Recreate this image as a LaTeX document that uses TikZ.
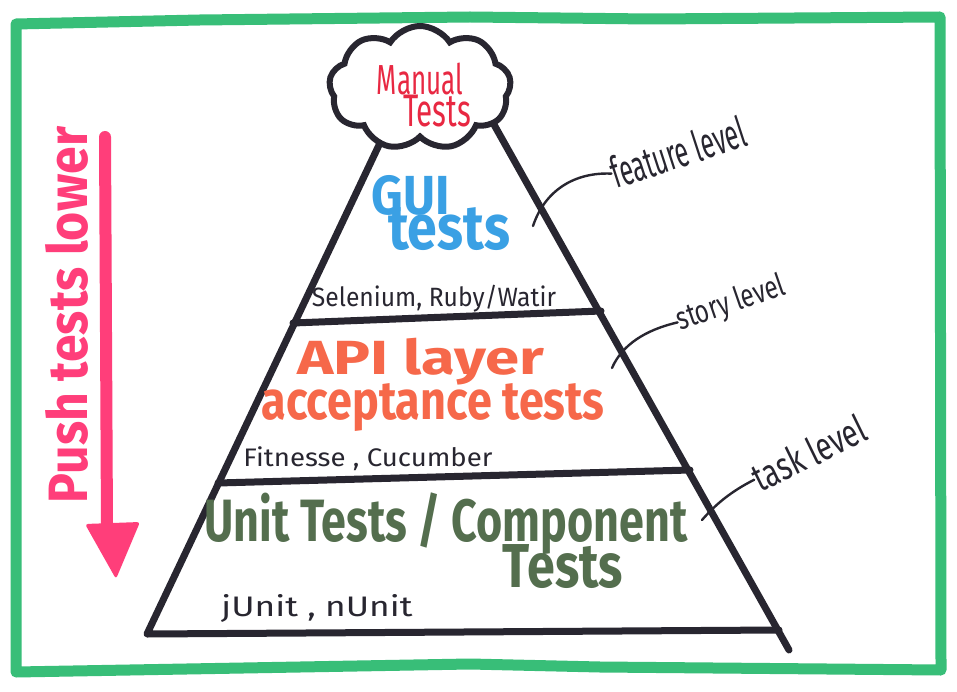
\documentclass[tikz,border=0pt]{standalone}
\usepackage{fontspec}
\setmainfont{Fira Sans}
\usetikzlibrary{shapes.symbols,calc}
\definecolor{frame}{RGB}{56,190,120}
\definecolor{ink}{RGB}{40,38,48}
\definecolor{manred}{RGB}{232,40,66}
\definecolor{guiblue}{RGB}{58,160,228}
\definecolor{apiorange}{RGB}{246,104,74}
\definecolor{unitgreen}{RGB}{84,110,78}
\definecolor{pushpink}{RGB}{255,62,122}
\newcommand{\fitto}[3]{\resizebox*{#1pt}{#2pt}{#3}}
\begin{document}
\begin{tikzpicture}[x=1pt,y=-1pt,
  txt/.style={inner sep=0pt, outer sep=0pt},
  pyrline/.style={draw=ink, line width=7pt, line cap=round, line join=round},
  conn/.style={draw=ink, line width=2.4pt, line cap=round},
  framebox/.style={draw=frame, line width=11pt, line join=round, line cap=round}]
\useasboundingbox (0,0) rectangle (957,692);
\fill[white] (0,0) rectangle (957,692);

% green frame
\draw[framebox] (16,24) -- (200,20) -- (470,17) -- (650,19) -- (940,17)
  -- (941,670) -- (600,667) -- (470,664) -- (300,667) -- (16,672) -- cycle;

% pyramid
\coordinate (TL) at (398,105);
\coordinate (BL) at (147,634);
\coordinate (TR) at (483,105);
\coordinate (BR) at (789,650);
\coordinate (BRb) at (779,630);
\coordinate (L1) at (293,323);
\coordinate (R1) at (601,311);
\coordinate (L2) at (218,483);
\coordinate (R2) at (690,470);
\draw[pyrline] (TL) -- (BL) -- (BRb);
\draw[pyrline] (TR) -- (BR);
\draw[pyrline] (L1) -- (R1);
\draw[pyrline] (L2) -- (R2);

% cloud
\node[cloud, draw=ink, line width=6pt, fill=white, cloud puffs=9, cloud puff arc=115,
      aspect=1.5, minimum width=182, minimum height=124] (cloud) at (420,88) {};
\node[txt, text=manred] (manual) at (420,79) {\fitto{86}{32}{Manual}};
\node[txt, text=manred] (mtests) at (437,111) {\fitto{68}{32}{Tests}};

% GUI layer
\node[txt, text=guiblue] (gui) at (411,195) {\fitto{78}{40}{\bfseries GUI}};
\node[txt, text=guiblue] (guitests) at (449,229) {\fitto{122}{43}{\bfseries tests}};
\node[txt, text=ink] (selenium) at (434,299) {\fitto{244}{27}{Selenium, Ruby/Watir}};

% API layer
\node[txt, text=apiorange] (api) at (421,362) {\fitto{247}{47}{\bfseries API layer}};
\node[txt, text=apiorange] (accept) at (433,408) {\fitto{343}{48}{\bfseries acceptance tests}};
\node[txt, text=ink] (fitnesse) at (368,459) {\fitto{249}{24}{Fitnesse , Cucumber}};

% Unit layer
\node[txt, text=unitgreen] (unit) at (446,524) {\fitto{483}{62}{\bfseries Unit Tests / Component}};
\node[txt, text=unitgreen] (utests) at (563,567) {\fitto{120}{44}{\bfseries Tests}};
\node[txt, text=ink] (junit) at (317,608) {\fitto{191}{28}{jUnit , nUnit}};

% level labels
\node[txt, text=ink, rotate=18] (feat) at (678,152) {\fitto{140}{33}{feature level}};
\node[txt, text=ink, rotate=19] (story) at (731,304) {\fitto{113}{31}{story level}};
\node[txt, text=ink, rotate=26] (task) at (809,453) {\fitto{122}{30}{task level}};

\coordinate (f1) at (533,226);
\coordinate (s1) at (612,368);
\coordinate (t1) at (702,520);
\draw[conn] (f1) .. controls (545,190) and (575,172) .. (feat.west);
\draw[conn] (s1) .. controls (622,345) and (645,330) .. (story.west);
\draw[conn] (t1) .. controls (715,505) and (730,492) .. (task.west);

% push arrow
\node[txt, text=pushpink, rotate=90] (push) at (67,315) {\fitto{376}{43}{\bfseries Push tests lower}};
\coordinate (pa) at (105,137);
\coordinate (pb) at (107,528);
\draw[pushpink, line width=12pt, line cap=round] (pa) -- (pb);
\fill[pushpink, rounded corners=3pt] (85,524) -- (140,522) -- (116,579) -- cycle;
\end{tikzpicture}
\end{document}
